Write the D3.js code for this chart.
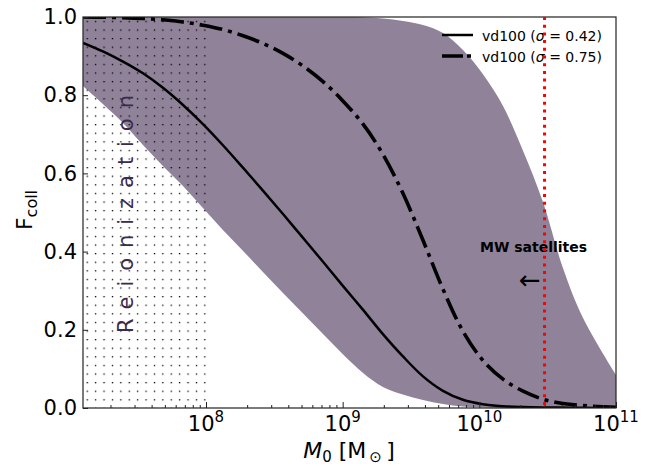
<!DOCTYPE html>
<html><head><meta charset="utf-8">
<script src="https://cdn.jsdelivr.net/npm/d3@7"></script>
<style>body{margin:0;background:#fff} svg{font-family:"DejaVu Sans",sans-serif}</style>
</head><body><svg id="c" width="655" height="466"></svg>
<script>
// ---- data ----
const mass = [1.26e7, 1.76e7, 2.47e7, 3.46e7, 4.84e7, 6.79e7, 9.5e7, 1.33e8, 1.87e8, 2.61e8, 3.66e8, 5.13e8, 7.18e8,
  1.0e9, 1.41e9, 1.97e9, 2.76e9, 3.87e9, 5.42e9, 7.59e9, 1.06e10, 1.49e10, 2.09e10, 2.92e10, 4.09e10, 5.74e10, 1e11];
const fSolid = [0.934, 0.912, 0.886, 0.856, 0.819, 0.775, 0.726, 0.672, 0.614, 0.556, 0.496, 0.435, 0.374,
  0.313, 0.251, 0.189, 0.132, 0.081, 0.044, 0.021, 0.0097, 0.0046, 0.0025, 0.0015, 0.001, 0.0005, 0];
const fDash = [1.0, 0.9995, 0.9985, 0.9964, 0.9928, 0.9872, 0.979, 0.968, 0.952, 0.9325, 0.907, 0.8747, 0.8348,
  0.786, 0.7258, 0.649, 0.549, 0.429, 0.304, 0.196, 0.122, 0.0737, 0.043, 0.0225, 0.0113, 0.0061, 0.0018];
const bandUpper = [1, 1, 1, 1, 1, 1, 1, 1, 1, 1, 1, 1, 1,
  1, 0.9995, 0.9962, 0.9898, 0.9795, 0.959, 0.9156, 0.8542, 0.7724, 0.6573, 0.5269, 0.358, 0.2302, 0.0844];
const bandLower = [0.8235, 0.7775, 0.729, 0.6726, 0.6189, 0.5678, 0.5115, 0.4552, 0.4015, 0.3478, 0.2941, 0.2417, 0.1893,
  0.1381, 0.0895, 0.0537, 0.0345, 0.0205, 0.0102, 0.0038, 0.001, 0, 0, 0, 0, 0, 0];
const reionMax = 1e8;
const mwMass = 3e10;
const yTicks = [0, 0.2, 0.4, 0.6, 0.8, 1.0];
const xMajor = [1e8, 1e9, 1e10, 1e11];
const xExp = ["8", "9", "10", "11"];
const legendLabels = ["0.42", "0.75"];

// ---- layout ----
const L = 83, R = 616, T = 17, B = 408;
const svg = d3.select("#c");
const x = d3.scaleLog().domain([Math.pow(10, 7.1), 1e11]).range([L, R]);
const y = d3.scaleLinear().domain([0, 1]).range([B, T]);

const defs = svg.append("defs");
defs.append("clipPath").attr("id", "clip").append("rect")
  .attr("x", L).attr("y", T).attr("width", R - L).attr("height", B - T);
const pat = defs.append("pattern").attr("id", "dots").attr("patternUnits", "userSpaceOnUse")
  .attr("x", L).attr("y", T).attr("width", 8.4).attr("height", 8.6);
pat.append("rect").attr("x", 3.6).attr("y", 3.8).attr("width", 1.3).attr("height", 1.3).attr("fill", "#000");

const g = svg.append("g").attr("clip-path", "url(#clip)");
const crv = d3.curveCatmullRom.alpha(0.5);

// band
const area = d3.area().x((d) => x(d[0])).y0((d) => y(d[2])).y1((d) => y(d[1])).curve(crv);
g.append("path").datum(mass.map((m, i) => [m, bandUpper[i], bandLower[i]]))
  .attr("d", area).attr("fill", "#8f8299");

// reionization hatch
g.append("rect").attr("x", x.range()[0]).attr("y", y(1)).attr("width", x(reionMax) - x.range()[0]).attr("height", y(0) - y(1))
  .attr("fill", "url(#dots)");

// Reionization label
svg.append("text").attr("transform", `translate(133,${(333 + 95) / 2}) rotate(-90)`)
  .attr("text-anchor", "middle").attr("font-size", 21).attr("fill", "#3a2a4c")
  .attr("textLength", 238).attr("lengthAdjust", "spacing").text("Reionization");

const line = d3.line().x((d) => x(d[0])).y((d) => y(d[1])).curve(crv);
g.append("path").datum(mass.map((m, i) => [m, fSolid[i]])).attr("d", line)
  .attr("fill", "none").attr("stroke", "#000").attr("stroke-width", 2.5);
g.append("path").datum(mass.map((m, i) => [m, fDash[i]])).attr("d", line)
  .attr("fill", "none").attr("stroke", "#000").attr("stroke-width", 3.6)
  .attr("stroke-dasharray", "23,6,4,6");

// MW satellites
svg.append("text").attr("x", 480).attr("y", 252).attr("font-size", 14).attr("font-weight", "bold").text("MW satellites");
svg.append("text").attr("x", 530).attr("y", 289).attr("text-anchor", "middle").attr("font-size", 26).text("\u2190");

// legend
const lg = svg.append("g");
[0, 1].forEach((i) => {
  const yy = 35 + i * 21;
  lg.append("line").attr("x1", 442).attr("x2", 473).attr("y1", yy).attr("y2", yy)
    .attr("stroke", "#000").attr("stroke-width", i ? 3.4 : 2.5)
    .attr("stroke-dasharray", i ? "21,4,4,6" : null);
  const t = lg.append("text").attr("x", 482).attr("y", yy + 6).attr("font-size", 14);
  t.append("tspan").text("vd100 (");
  t.append("tspan").attr("font-style", "italic").text("\u03c3");
  t.append("tspan").text(" = " + legendLabels[i] + ")");
});

// axes
const xMinor = [];
for (let e = 7; e <= 10; e++) for (let k = 2; k <= 9; k++) { const v = k * Math.pow(10, e); if (v >= x.domain()[0] && v <= 1e11) xMinor.push(v); }
svg.append("g").attr("transform", `translate(0,${B})`)
  .call(d3.axisBottom(x).tickValues(xMinor).tickSize(-3).tickFormat(""))
  .call((a) => { a.select(".domain").remove(); a.selectAll("line").attr("stroke", "#222"); });
svg.append("g").attr("transform", `translate(0,${B})`)
  .call(d3.axisBottom(x).tickValues(xMajor).tickSize(-6).tickFormat(""))
  .call((a) => { a.select(".domain").remove(); a.selectAll("line").attr("stroke", "#222"); });
xMajor.forEach((v, i) => {
  const t = svg.append("text").attr("x", x(v)).attr("y", 431).attr("text-anchor", "middle").attr("font-size", 21);
  t.append("tspan").text("10");
  t.append("tspan").attr("dy", -9).attr("font-size", 15).text(xExp[i]);
});
svg.append("g").attr("transform", `translate(${L},0)`)
  .call(d3.axisLeft(y).tickValues(yTicks).tickSize(-5).tickPadding(6).tickFormat(d3.format(".1f")))
  .call((a) => {
    a.select(".domain").remove();
    a.selectAll("line").attr("stroke", "#222");
    a.selectAll("text").attr("font-size", 21).attr("font-family", "DejaVu Sans").attr("fill", "#000");
  });

// frame
svg.append("rect").attr("x", L).attr("y", T).attr("width", R - L).attr("height", B - T)
  .attr("fill", "none").attr("stroke", "#222").attr("stroke-width", 1.2);

// MW line (on top)
svg.append("line").attr("x1", x(mwMass)).attr("x2", x(mwMass)).attr("y1", T).attr("y2", B)
  .attr("stroke", "#ff0000").attr("stroke-width", 3).attr("stroke-dasharray", "3,4.7");

// axis labels
const xl = svg.append("text").attr("x", 349).attr("y", 458).attr("text-anchor", "middle").attr("font-size", 22);
xl.append("tspan").attr("font-style", "italic").text("M");
xl.append("tspan").attr("font-size", 15).attr("dy", 4).text("0");
xl.append("tspan").attr("dy", -4).text(" [M");
xl.append("tspan").attr("font-size", 15).attr("dy", 4).text("\u2009\u2299");
xl.append("tspan").attr("dy", -4).text("\u2009]");

const yl = svg.append("text").attr("transform", "translate(32,210) rotate(-90)").attr("text-anchor", "middle").attr("font-size", 22);
yl.append("tspan").text("F");
yl.append("tspan").attr("font-size", 16).attr("dy", 5).text("coll");
</script></body></html>
